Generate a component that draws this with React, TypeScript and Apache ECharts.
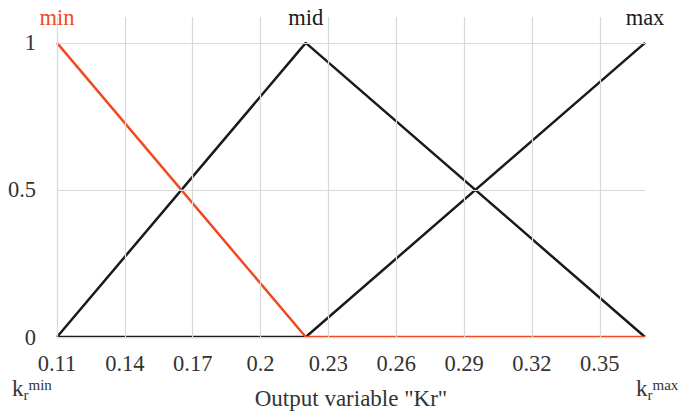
import React, { useEffect, useRef } from "react";
import * as echarts from "echarts";

const X0 = 0.11;
const xTicks = [0.11, 0.14, 0.17, 0.2, 0.23, 0.26, 0.29, 0.32, 0.35];
const yTicks = [0, 0.5, 1];
const xPoints = [0.11, 0.22, 0.37];
const minValues = [1, 0, 0];
const midValues = [0, 1, 0];
const maxValues = [0, 0, 1];
const seriesNames = ["min", "mid", "max"];
const peakX = [0.11, 0.22, 0.37];

const FONT = "Liberation Serif, DejaVu Serif, serif";
const FS = 22.5;
const ORANGE = "#EE4B22";
const BLACK = "#1a1a1a";
const GRID = "#d9d9d9";
const TXT = "#333333";

function kLabel(left: number, sup: string) {
  return {
    type: "group",
    x: left,
    y: 0,
    children: [
      {
        type: "text",
        x: 0,
        y: 388,
        style: { text: "k", font: `23px ${FONT}`, fill: TXT, verticalAlign: "middle", lineHeight: 16 },
      },
      {
        type: "text",
        x: 11.5,
        y: 395,
        style: { text: "r", font: `15px ${FONT}`, fill: TXT, verticalAlign: "middle", lineHeight: 9 },
      },
      {
        type: "text",
        x: 16.5,
        y: 384.5,
        style: { text: sup, font: `15px ${FONT}`, fill: TXT, verticalAlign: "middle", lineHeight: 9 },
      },
    ],
  };
}

export default function App() {
  const ref = useRef<HTMLDivElement>(null);
  useEffect(() => {
    if (!ref.current) return;
    const chart = echarts.init(ref.current, null, { renderer: "svg" });
    const toData = (vals: number[]) => xPoints.map((x, i) => [+(x - X0).toFixed(4), vals[i]]);
    const lineSeries = (name: string, vals: number[], color: string, peak: number, z: number) => ({
      name,
      type: "line",
      data: toData(vals),
      showSymbol: false,
      symbol: "none",
      lineStyle: { color, width: 2.5 },
      z,
      markPoint: {
        symbol: "circle",
        symbolSize: 0,
        silent: true,
        data: [{ coord: [+(peak - X0).toFixed(4), 1], value: name }],
        label: {
          show: true,
          position: "top",
          distance: 14,
          formatter: name,
          color: color === ORANGE ? ORANGE : BLACK,
          fontFamily: FONT,
          fontSize: FS,
        },
      },
    });
    chart.setOption({
      animation: false,
      textStyle: { fontFamily: FONT },
      grid: { left: 57, right: 36, top: 17, bottom: 75, containLabel: false, outerBoundsMode: "none" },
      xAxis: {
        type: "value",
        min: 0,
        max: 0.26,
        interval: 0.03,
        axisLine: { show: false },
        axisTick: { show: false },
        splitLine: { show: false },
        axisLabel: {
          showMaxLabel: false,
          margin: 19,
          lineHeight: 14,
          color: TXT,
          fontFamily: FONT,
          fontSize: FS,
          formatter: (v: number) => String(+(v + X0).toFixed(2)),
        },
        name: 'Output variable "Kr"',
        nameLocation: "middle",
        nameGap: 50,
        nameTextStyle: { color: TXT, fontFamily: FONT, fontSize: 23 },
      },
      yAxis: {
        type: "value",
        min: 0,
        max: 1.088,
        interval: 0.5,
        axisLine: { show: false },
        axisTick: { show: false },
        splitLine: { show: false },
        axisLabel: {
          showMaxLabel: false,
          margin: 21,
          color: TXT,
          fontFamily: FONT,
          fontSize: FS,
          formatter: (v: number) => (v > 1.01 ? "" : String(v)),
        },
      },
      series: [
        {
          name: "grid",
          type: "line",
          data: [[0, 0]],
          showSymbol: false,
          lineStyle: { width: 0 },
          z: 1,
          silent: true,
          markLine: {
            silent: true,
            symbol: ["none", "none"],
            label: { show: false },
            lineStyle: { color: GRID, type: "solid", width: 1.2 },
            data: [
              ...xTicks.map((v) => ({ xAxis: +(v - X0).toFixed(4) })),
              ...yTicks.map((v) => ({ yAxis: v })),
            ],
          },
        },
        lineSeries(seriesNames[1], midValues, BLACK, peakX[1], 2),
        lineSeries(seriesNames[2], maxValues, BLACK, peakX[2], 3),
        lineSeries(seriesNames[0], minValues, ORANGE, peakX[0], 4),
      ],
      graphic: [kLabel(12, "min"), kLabel(636, "max")],
    });
    return () => chart.dispose();
  }, []);
  return <div ref={ref} style={{ width: 681, height: 412, position: "absolute", left: 0, top: 0 }} />;
}
